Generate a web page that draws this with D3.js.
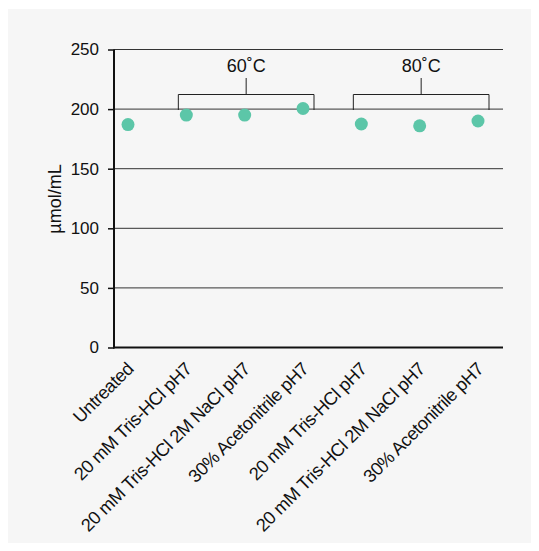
<!DOCTYPE html>
<html>
<head>
<meta charset="utf-8">
<script src="https://cdn.jsdelivr.net/npm/d3@7"></script>
<style>
  body { margin: 0; background: #fff; }
  text { font-family: "Liberation Sans", Arial, sans-serif; fill: #111; }
</style>
</head>
<body>
<script>
const categories = [
  "Untreated",
  "20 mM Tris-HCl pH7",
  "20 mM Tris-HCl 2M NaCl pH7",
  "30% Acetonitrile pH7",
  "20 mM Tris-HCl pH7 ",
  "20 mM Tris-HCl 2M NaCl pH7 ",
  "30% Acetonitrile pH7 "
];
const values = [187, 195, 195, 200.5, 187.5, 186, 190];
const yTicks = [0, 50, 100, 150, 200, 250];
const groups = [
  { label: "60˚C", from: 1, to: 3 },
  { label: "80˚C", from: 4, to: 6 }
];

const W = 539, H = 551;
const svg = d3.select("body").append("svg")
  .attr("width", W).attr("height", H);

svg.append("rect")
  .attr("x", 8).attr("y", 9)
  .attr("width", 523).attr("height", 534)
  .attr("fill", "#f6f6f6");

const pLeft = 114, pRight = 503, pTop = 49.5, pBottom = 347.5;

const x = d3.scalePoint().domain(categories).range([128, 478]);
const y = d3.scaleLinear().domain([0, 250]).range([pBottom, pTop]);

// gridlines
svg.append("g")
  .selectAll("line")
  .data(yTicks.filter(d => d > 0))
  .join("line")
  .attr("x1", pLeft).attr("x2", pRight)
  .attr("y1", d => y(d)).attr("y2", d => y(d))
  .attr("stroke", "#333").attr("stroke-width", 1);

// y axis
const yAxis = svg.append("g")
  .attr("transform", `translate(${pLeft},0)`)
  .call(d3.axisLeft(y).tickValues(yTicks).tickSize(6).tickPadding(9));
yAxis.select(".domain").attr("stroke", "#111").attr("stroke-width", 2)
  .attr("d", `M0,${pBottom + 1}V${pTop}`);
yAxis.selectAll(".tick line").attr("stroke", "#111").attr("stroke-width", 1.5);
yAxis.selectAll(".tick text").style("font-size", "17px")
  .style("font-family", "Liberation Sans, Arial, sans-serif").attr("fill", "#111");

// x axis baseline
svg.append("line")
  .attr("x1", pLeft - 1).attr("x2", pRight)
  .attr("y1", pBottom).attr("y2", pBottom)
  .attr("stroke", "#111").attr("stroke-width", 2);

// x labels
svg.append("g")
  .selectAll("text")
  .data(categories)
  .join("text")
  .attr("transform", d => `translate(${x(d) + 2},${pBottom + 18}) rotate(-45)`)
  .attr("text-anchor", "end")
  .attr("dy", "0.35em")
  .style("font-size", "18.2px")
  .style("letter-spacing", "-0.4px")
  .text(d => d.trim());

// y title
svg.append("text")
  .attr("transform", `translate(61,199) rotate(-90)`)
  .attr("text-anchor", "middle")
  .style("font-size", "18px")
  .text("µmol/mL");

// group brackets
groups.forEach(g => {
  const x0 = x(categories[g.from]) - 8;
  const x1 = x(categories[g.to]) + 11;
  const yb = 94.5, yEnd = 110, cx = (x0 + x1) / 2;
  svg.append("path")
    .attr("d", `M${x0},${yEnd}V${yb}H${x1}V${yEnd}M${cx},${yb}V78`)
    .attr("fill", "none").attr("stroke", "#222").attr("stroke-width", 1);
  svg.append("text")
    .attr("x", cx).attr("y", 71.5)
    .attr("text-anchor", "middle")
    .style("font-size", "18px")
    .text(g.label);
});

// points
svg.append("g")
  .selectAll("circle")
  .data(values)
  .join("circle")
  .attr("cx", (d, i) => x(categories[i]))
  .attr("cy", d => y(d))
  .attr("r", 6.5)
  .attr("fill", "#5cc6a8");
</script>
</body>
</html>
